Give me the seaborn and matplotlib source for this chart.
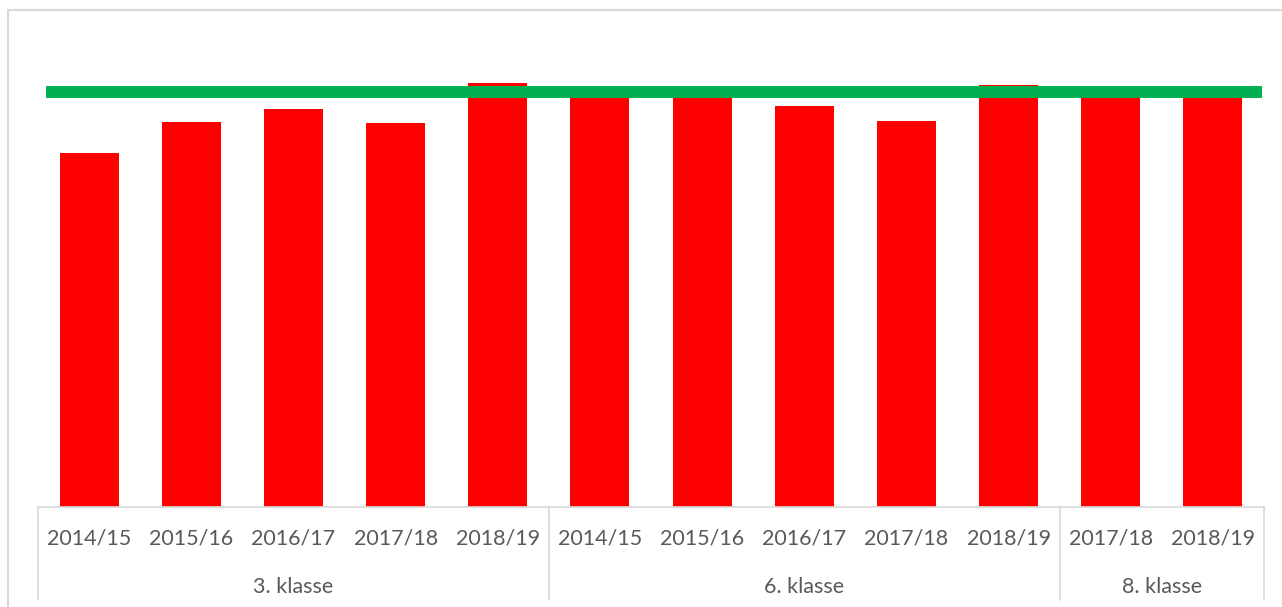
import pandas as pd
import matplotlib.pyplot as plt
import matplotlib.transforms as mtransforms
from matplotlib.patches import Rectangle
import seaborn as sns

# Data (target line = 100)
groups = ["3. klasse"] * 5 + ["6. klasse"] * 5 + ["8. klasse"] * 2
years = ["2014/15", "2015/16", "2016/17", "2017/18", "2018/19",
         "2014/15", "2015/16", "2016/17", "2017/18", "2018/19",
         "2017/18", "2018/19"]
values = [85.3, 92.8, 95.9, 92.5, 102.2,
          100.0, 100.0, 96.6, 93.0, 101.7,
          99.5, 99.5]
target = 100.0
group_names = ["3. klasse", "6. klasse", "8. klasse"]

TEXT_COLOR = "#595959"
GRID_COLOR = "#d9d9d9"


def main():
    df = pd.DataFrame({"group": groups, "year": years, "value": values})
    df["key"] = df["group"] + " " + df["year"]

    sns.set_theme(style="white")
    plt.rcParams["font.family"] = ["Lato", "DejaVu Sans"]

    fig = plt.figure(figsize=(12.82, 6.07), dpi=100)
    ax = fig.add_axes([38 / 1282, 100 / 607, 1226 / 1282, 487 / 607])

    sns.barplot(data=df, x="key", y="value", color="#ff0000", width=0.577,
                saturation=1, linewidth=0, errorbar=None, ax=ax)

    # target line
    ax.axhline(target, xmin=8 / 1226, xmax=1224 / 1226, color="#00b050",
               linewidth=8.6, solid_capstyle="butt", zorder=3)

    ax.set_xlim(-0.5, len(df) - 0.5)
    ax.set_ylim(0, 487 / 415 * target)
    ax.set_xlabel("")
    ax.set_ylabel("")
    ax.set_yticks([])
    ax.set_xticks(range(len(df)))
    ax.set_xticklabels(df["year"], fontsize=15.5, color=TEXT_COLOR)
    ax.tick_params(axis="x", length=0, pad=15.5)

    for side in ["top", "right", "left"]:
        ax.spines[side].set_visible(False)
    ax.spines["bottom"].set_color(GRID_COLOR)
    ax.spines["bottom"].set_linewidth(1.2)

    # multi-level category axis: separators and group labels
    trans = mtransforms.blended_transform_factory(ax.transData, ax.transAxes)
    bottom = -(600 - 507) / 487
    bounds = [-0.5]
    pos = 0
    for g in group_names:
        n = groups.count(g)
        pos += n
        bounds.append(pos - 0.5)
    for b in bounds:
        ax.plot([b, b], [0, bottom], color=GRID_COLOR, linewidth=1.2,
                transform=trans, clip_on=False)
    for g, left, right in zip(group_names, bounds[:-1], bounds[1:]):
        ax.text((left + right) / 2, -(587 - 507) / 487, g, transform=trans,
                ha="center", va="center", fontsize=15.5, color=TEXT_COLOR)

    # chart frame
    fig.patches.append(Rectangle((8 / 1282, -0.1), 1.2, 1.1 - 10 / 607,
                                 transform=fig.transFigure, fill=False,
                                 edgecolor=GRID_COLOR, linewidth=1.5))

    fig.savefig("out.png", dpi=100)
    plt.close(fig)


if __name__ == "__main__":
    main()
